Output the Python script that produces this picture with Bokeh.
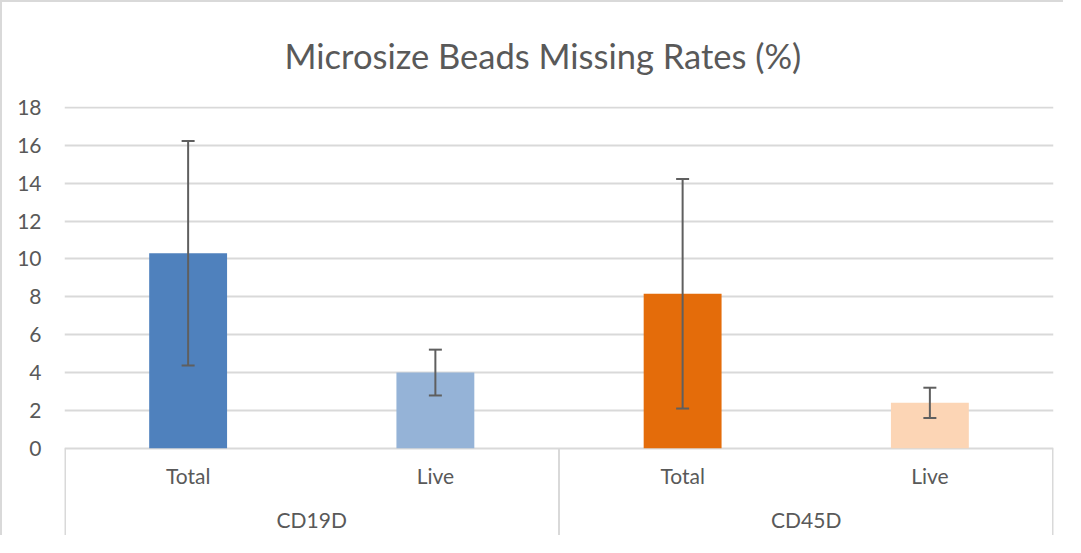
from bokeh.plotting import figure
from bokeh.models import ColumnDataSource, FactorRange, FixedTicker, Whisker, TeeHead
from bokeh.core.properties import value
from bokeh.embed import file_html
from bokeh.resources import INLINE

# ---- data ----
groups = ["CD19D", "CD19D", "CD45D", "CD45D"]
subgroups = ["Total", "Live", "Total", "Live"]
rates = [10.3, 4.0, 8.16, 2.4]
errors = [5.93, 1.21, 6.06, 0.8]
colors = ["#4F81BD", "#95B3D7", "#E46C0A", "#FCD5B5"]
group_names = ["CD19D", "CD45D"]
y_ticks = [0, 2, 4, 6, 8, 10, 12, 14, 16, 18]
title_text = "Microsize Beads Missing Rates (%)"

FONT = "Lato"
TXT = "#595959"
GRID = "#D9D9D9"

factors = list(zip(groups, subgroups))
x_range = FactorRange(*factors, factor_padding=0, group_padding=0,
                      subgroup_padding=0, range_padding=0)

p = figure(width=1063, height=535, x_range=x_range, y_range=(-4.71, 18.05),
           output_backend="svg", toolbar_location=None,
           min_border_left=62, min_border_right=12, min_border_top=95,
           min_border_bottom=0)
p.styles = {"border-left": "2px solid #D9D9D9", "border-top": "2px solid #D9D9D9"}
p.outline_line_color = None
p.background_fill_color = "white"
p.border_fill_color = "white"

p.title.text = title_text
p.title.align = "left"
p.title.text_font = FONT
p.title.text_font_size = "34.5px"
p.title.text_font_style = "normal"
p.title.text_color = TXT
p.title.offset = 220
p.title.standoff = 61

src = ColumnDataSource(dict(x=factors, top=rates, color=colors,
                            upper=[r + e for r, e in zip(rates, errors)],
                            lower=[r - e for r, e in zip(rates, errors)]))

p.vbar(x="x", top="top", bottom=0, width=0.315, fill_color="color",
       line_color=None, source=src)

wh = Whisker(base="x", upper="upper", lower="lower", source=src,
             line_color="#5F5F5F", line_width=2, level="overlay",
             upper_head=TeeHead(size=13, line_color="#5F5F5F", line_width=2),
             lower_head=TeeHead(size=13, line_color="#5F5F5F", line_width=2))
p.add_layout(wh)

# category axis labels drawn below zero
p.text(x=factors, y=[-1.45] * len(factors), text=subgroups,
       text_align="center", text_baseline="middle",
       text_font=value(FONT), text_font_size="21px", text_color=TXT)
p.text(x=group_names, y=[-3.78] * len(group_names), text=group_names,
       text_align="center", text_baseline="middle",
       text_font=value(FONT), text_font_size="21px", text_color=TXT)

# group separators
n = len(factors)
sep_x = [0.002, n / 2, n - 0.002]
p.segment(x0=sep_x, y0=[0] * 3, x1=sep_x, y1=[-4.71] * 3,
          line_color=GRID, line_width=2)

p.xaxis.visible = False
p.xgrid.visible = False

p.yaxis.ticker = FixedTicker(ticks=y_ticks)
p.yaxis.axis_line_color = None
p.yaxis.major_tick_line_color = None
p.yaxis.minor_tick_line_color = None
p.yaxis.major_label_standoff = 17
p.yaxis.major_label_text_font = FONT
p.yaxis.major_label_text_font_size = "21px"
p.yaxis.major_label_text_color = TXT

p.ygrid.ticker = FixedTicker(ticks=y_ticks)
p.ygrid.grid_line_color = GRID
p.ygrid.grid_line_width = 2
p.ygrid.level = "underlay"

open("out.html", "w").write(file_html(p, INLINE))
